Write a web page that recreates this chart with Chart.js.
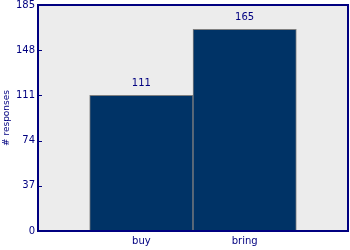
<!DOCTYPE html>
<html>
<head>
<meta charset="utf-8">
<script src="https://cdn.jsdelivr.net/npm/chart.js@4"></script>
<style>
  html, body { margin: 0; padding: 0; background: #fff; }
  #wrap { width: 350px; height: 250px; }
</style>
</head>
<body>
<div id="wrap"><canvas id="chart" width="350" height="250"></canvas></div>
<script>
const categories = ['buy', 'bring'];
const responses = [111, 165];
const yTicks = [0, 37, 74, 111, 148, 185];

const navy = '#000080';

// plot background, border, inward tick marks, value labels
const plotDecor = {
  id: 'plotDecor',
  beforeDraw(chart) {
    const a = chart.chartArea;
    const ctx = chart.ctx;
    ctx.save();
    ctx.fillStyle = '#ececec';
    ctx.fillRect(a.left, a.top, a.right - a.left, a.bottom - a.top);
    ctx.restore();
  },
  afterDatasetsDraw(chart) {
    const a = chart.chartArea;
    const ctx = chart.ctx;
    const y = chart.scales.y;
    ctx.save();
    ctx.strokeStyle = navy;
    ctx.lineWidth = 1;
    yTicks.forEach(t => {
      const py = Math.round(y.getPixelForValue(t)) + 0.5;
      ctx.beginPath();
      ctx.moveTo(a.left, py);
      ctx.lineTo(a.left + 4, py);
      ctx.stroke();
    });
    ctx.lineWidth = 2;
    ctx.strokeRect(Math.round(a.left), Math.round(a.top), Math.round(a.right - a.left), Math.round(a.bottom - a.top));

    ctx.fillStyle = navy;
    ctx.font = '10px "DejaVu Sans"';
    ctx.textAlign = 'center';
    ctx.textBaseline = 'middle';
    chart.getDatasetMeta(0).data.forEach((bar, i) => {
      ctx.fillText(String(responses[i]), bar.x, bar.y - 12);
    });
    ctx.restore();
  }
};

new Chart(document.getElementById('chart'), {
  type: 'bar',
  data: {
    datasets: [{
      data: responses.map((v, i) => ({ x: i + 1, y: v })),
      backgroundColor: '#003366',
      borderColor: '#808080',
      borderWidth: 1,
      barPercentage: 1,
      categoryPercentage: 1
    }]
  },
  options: {
    responsive: false,
    animation: false,
    layout: { padding: { top: 5, right: 2, left: 0, bottom: 0 } },
    plugins: { legend: { display: false }, tooltip: { enabled: false } },
    scales: {
      x: {
        type: 'linear',
        min: 0,
        max: 3,
        offset: false,
        grid: { display: false, drawTicks: false },
        border: { display: false },
        afterBuildTicks: s => { s.ticks = categories.map((c, i) => ({ value: i + 1 })); },
        afterFit: s => { s.height = 19; s.paddingLeft = 0; s.paddingRight = 0; },
        ticks: {
          autoSkip: false,
          maxRotation: 0,
          padding: 4,
          color: navy,
          font: { family: 'DejaVu Sans', size: 10 },
          callback: v => categories[v - 1]
        }
      },
      y: {
        min: 0,
        max: 185,
        grid: { display: false, drawTicks: false },
        border: { display: false },
        afterBuildTicks: s => { s.ticks = yTicks.map(v => ({ value: v })); },
        afterFit: s => { s.width = 38; s.paddingTop = 0; s.paddingBottom = 0; },
        ticks: {
          padding: 3,
          color: navy,
          font: { family: 'DejaVu Sans', size: 10 }
        },
        title: {
          display: true,
          text: '# responses',
          color: navy,
          padding: { top: 1, bottom: 0 },
          font: { family: 'DejaVu Sans', size: 9 }
        }
      }
    }
  },
  plugins: [plotDecor]
});
</script>
</body>
</html>
